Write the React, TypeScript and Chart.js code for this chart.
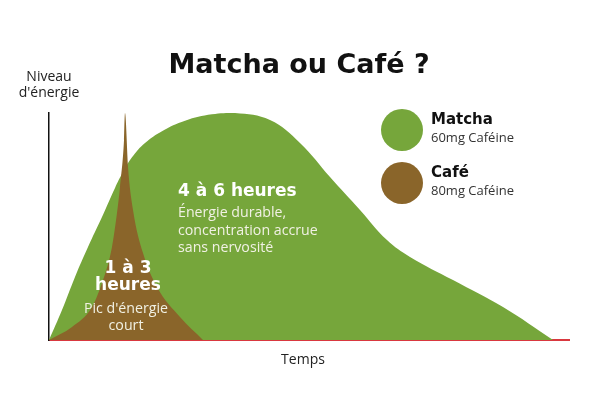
import React, { useEffect, useRef } from 'react';
import { Chart, registerables, ChartConfiguration, Plugin } from 'chart.js';

Chart.register(...registerables);

// time (arbitrary units, 0..26) and energy level (0..100)
const matchaTime = [0, 0.65, 1.3, 1.95, 2.65, 3.3, 3.7, 4.15, 4.8, 5.65, 6.8, 8.15, 9.3, 11.05, 12.55, 14.05, 15.55, 16.9, 18.05, 20.2, 22.7, 25.2];
const matchaLevel = [0, 13.2, 27.8, 41, 54.2, 67, 74, 80.5, 86.8, 92, 96.6, 99.4, 100, 96.9, 86.8, 71.8, 57.3, 44, 36.6, 26.4, 14.5, 0];

const cafeTime = [0, 1.15, 2.15, 2.7, 3.15, 3.4, 3.55, 3.75, 3.8, 3.95, 4.2, 4.7, 5.4, 6.55, 7.7];
const cafeLevel = [0, 5.7, 14.5, 26.4, 41, 56, 67.4, 88, 100, 76.2, 57.3, 38.3, 23.3, 10.1, 0];

const seriesNames = ['Matcha', 'Café'];
const seriesNotes = ['60mg Caféine', '80mg Caféine'];
const seriesColors = ['#76a63b', '#8a652a'];

const TITLE = 'Matcha ou Café ?';
const Y_LABEL = ['Niveau', "d'énergie"];
const X_LABEL = 'Temps';
const matchaText = ['Énergie durable,', 'concentration accrue', 'sans nervosité'];
const cafeText = ['Pic d\'énergie', 'court'];

const textPlugin: Plugin<'line'> = {
  id: 'texts',
  afterDraw(chart) {
    const ctx = chart.ctx;
    ctx.save();
    ctx.textBaseline = 'alphabetic';

    // title
    ctx.fillStyle = '#111111';
    ctx.textAlign = 'center';
    ctx.font = 'bold 27px "DejaVu Sans"';
    ctx.fillText(TITLE, 299, 73);

    // axis labels
    ctx.fillStyle = '#222222';
    ctx.font = '14px "Open Sans"';
    ctx.fillText(Y_LABEL[0], 49, 81);
    ctx.fillText(Y_LABEL[1], 49, 97);
    ctx.fillText(X_LABEL, 303, 364);

    // matcha annotation
    ctx.textAlign = 'left';
    ctx.fillStyle = '#ffffff';
    ctx.font = 'bold 17px "DejaVu Sans"';
    ctx.fillText('4 à 6 heures', 178, 196);
    ctx.fillStyle = '#f1f1e4';
    ctx.font = '14.2px "Open Sans"';
    matchaText.forEach((t, i) => ctx.fillText(t, 178, 217 + i * 17.5));

    // cafe annotation
    ctx.textAlign = 'center';
    ctx.fillStyle = '#ffffff';
    ctx.font = 'bold 17px "DejaVu Sans"';
    ctx.fillText('1 à 3', 128, 273);
    ctx.fillText('heures', 128, 290);
    ctx.fillStyle = '#f1f1e4';
    ctx.font = '14.2px "Open Sans"';
    ctx.fillText(cafeText[0], 126, 313);
    ctx.fillText(cafeText[1], 126, 330);

    // legend
    ctx.textAlign = 'left';
    seriesNames.forEach((name, i) => {
      const cy = 130 + i * 53;
      ctx.fillStyle = seriesColors[i];
      ctx.beginPath();
      ctx.arc(402, cy, 21, 0, Math.PI * 2);
      ctx.fill();
      ctx.fillStyle = '#111111';
      ctx.font = 'bold 15px "DejaVu Sans"';
      ctx.fillText(name, 431, cy - 6);
      ctx.fillStyle = '#333333';
      ctx.font = '13px "Open Sans"';
      ctx.fillText(seriesNotes[i], 431, cy + 12);
    });
    ctx.restore();
  },
};

export default function App() {
  const canvasRef = useRef<HTMLCanvasElement | null>(null);

  useEffect(() => {
    if (!canvasRef.current) return;
    const ctx = canvasRef.current.getContext('2d');
    if (!ctx) return;

    const config: ChartConfiguration<'line'> = {
      type: 'line',
      data: {
        datasets: [
          {
            label: seriesNames[0],
            data: matchaTime.map((x, i) => ({ x, y: matchaLevel[i] })),
            backgroundColor: seriesColors[0],
            borderColor: seriesColors[0],
            borderWidth: 0,
            fill: 'origin',
            tension: 0.4,
            pointRadius: 0,
            order: 2,
          },
          {
            label: seriesNames[1],
            data: cafeTime.map((x, i) => ({ x, y: cafeLevel[i] })),
            backgroundColor: seriesColors[1],
            borderColor: seriesColors[1],
            borderWidth: 0,
            fill: 'origin',
            cubicInterpolationMode: 'monotone',
            pointRadius: 0,
            order: 1,
          },
        ],
      },
      options: {
        animation: false,
        responsive: false,
        layout: { padding: { left: 49, top: 113, right: 31, bottom: 60 } },
        plugins: {
          legend: { display: false },
          tooltip: { enabled: false },
          title: { display: false },
        },
        scales: {
          x: {
            type: 'linear',
            min: 0,
            max: 26,
            grid: { display: false },
            ticks: { display: false },
            border: { color: '#d9383f', width: 2 },
            afterFit: (scale) => {
              scale.height = 0;
            },
          },
          y: {
            min: 0,
            max: 100,
            grid: { display: false },
            ticks: { display: false },
            border: { color: '#111111', width: 1.5 },
            afterFit: (scale) => {
              scale.width = 0;
            },
          },
        },
      },
      plugins: [textPlugin],
    };

    const chart = new Chart(ctx, config);
    return () => {
      chart.destroy();
    };
  }, []);

  return (
    <div style={{ position: 'fixed', left: 0, top: 0, width: 600, height: 400, background: '#ffffff' }}>
      <canvas ref={canvasRef} width={600} height={400} style={{ width: 600, height: 400 }} />
    </div>
  );
}
